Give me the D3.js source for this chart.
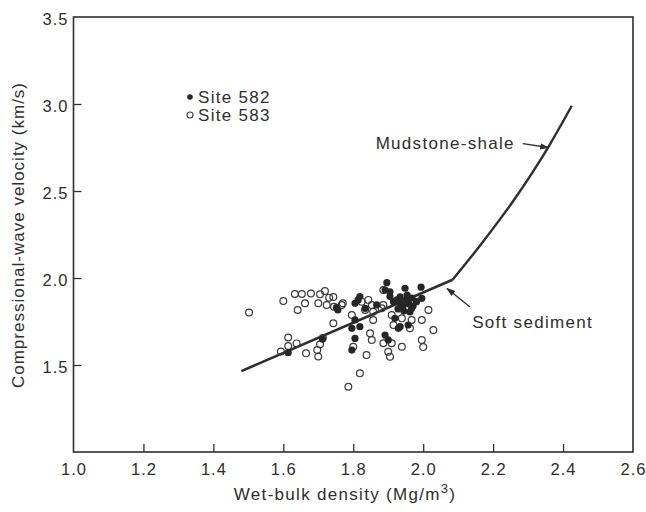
<html>
<head>
<script src="https://d3js.org/d3.v7.min.js"></script>
<style>
body { margin: 0; background: #fff; }
text { font-family: "Liberation Sans", Arial, sans-serif; fill: #2e2e2e; }
</style>
</head>
<body>
<script>
//DATA - density (Mg/m3), velocity (km/s)
var site582 = [
	[1.752,1.830],[1.756,1.816],[1.614,1.571],[1.712,1.649],[1.896,1.973],[1.891,1.931],
	[1.905,1.921],[1.948,1.941],[1.994,1.947],[1.819,1.893],[1.814,1.874],[1.805,1.855],
	[1.834,1.826],[1.867,1.845],[1.905,1.893],[1.915,1.864],[1.925,1.874],[1.934,1.856],
	[1.942,1.839],[1.951,1.874],[1.959,1.851],[1.968,1.885],[1.928,1.822],[1.945,1.810],
	[1.962,1.805],[1.971,1.839],[1.934,1.891],[1.954,1.902],[1.981,1.864],[1.996,1.883],
	[1.967,1.826],[1.805,1.759],[1.819,1.720],[1.919,1.768],[1.934,1.720],[1.957,1.730],
	[1.796,1.711],[1.805,1.653],[1.796,1.586],[1.891,1.672],[1.900,1.644],[1.929,1.711]
];
var site583 = [
	[1.502,1.802],[1.600,1.868],[1.633,1.908],[1.653,1.908],[1.679,1.911],[1.705,1.906],
	[1.719,1.925],[1.731,1.887],[1.700,1.855],[1.662,1.855],[1.641,1.816],[1.724,1.845],
	[1.745,1.835],[1.767,1.845],[1.743,1.740],[1.614,1.658],[1.638,1.624],[1.614,1.609],
	[1.593,1.578],[1.665,1.567],[1.697,1.586],[1.705,1.619],[1.713,1.655],[1.700,1.549],
	[1.786,1.375],[1.819,1.452],[1.743,1.891],[1.770,1.855],[1.796,1.787],[1.824,1.864],
	[1.843,1.874],[1.853,1.845],[1.834,1.816],[1.857,1.806],[1.857,1.759],[1.886,1.931],
	[1.886,1.845],[1.910,1.787],[1.939,1.768],[1.967,1.759],[1.996,1.759],[2.015,1.816],
	[1.962,1.711],[2.029,1.701],[1.996,1.644],[2.000,1.603],[1.848,1.682],[1.853,1.644],
	[1.886,1.625],[1.910,1.625],[1.939,1.605],[1.838,1.557],[1.900,1.576],[1.905,1.548],
	[1.800,1.605],[1.915,1.730],[1.881,1.826]
];
//trend lines
var softSediment = [[1.48,1.465],[2.084,1.99]];
var mudstoneShale = [[2.084,1.99],[2.16,2.18],[2.26,2.45],[2.36,2.76],[2.425,2.99]];

var xTicks = [1.0,1.2,1.4,1.6,1.8,2.0,2.2,2.4,2.6];
var yTicks = [1.5,2.0,2.5,3.0,3.5];
var legendNames = ["Site 582","Site 583"];
//////////////////////

var width = 646, height = 512;
var plotLeft = 73.5, plotRight = 633, plotTop = 17, plotBottom = 452;
var ink = "#2e2e2e";
var fontSize = "17px", spacing = "1.3px";

var svg = d3.select("body")
	.append("svg")
	.attr("width", width)
	.attr("height", height);

var x = d3.scaleLinear().domain([1.0, 2.6]).range([plotLeft, plotRight]);
var y = d3.scaleLinear().domain([1.0, 3.5]).range([plotBottom, plotTop]);

//AXES - ticks point inside the frame
var xAxis = d3.axisBottom(x).tickValues(xTicks).tickFormat(d3.format(".1f"))
	.tickSizeInner(-8).tickSizeOuter(0).tickPadding(11);
var yAxis = d3.axisLeft(y).tickValues(yTicks).tickFormat(d3.format(".1f"))
	.tickSizeInner(-8).tickSizeOuter(0).tickPadding(5);

var gx = svg.append("g").attr("transform", "translate(0," + plotBottom + ")").call(xAxis);
var gy = svg.append("g").attr("transform", "translate(" + plotLeft + ",0)").call(yAxis);

[gx, gy].forEach(function(g) {
	g.select(".domain").remove();
	g.selectAll("line").attr("stroke", ink).attr("stroke-width", 1.3);
	g.selectAll("text").attr("fill", ink).style("font-size", "16.5px")
		.style("letter-spacing", "1px").style("font-family", "'Liberation Sans', Arial, sans-serif");
});
gy.selectAll("text").attr("dy", "0.45em");
//no tick marks on the frame corners
gx.selectAll(".tick line").filter(function(d) { return d == 1.0 || d == 2.6; }).remove();
gy.selectAll(".tick line").filter(function(d) { return d == 3.5; }).remove();

//FRAME
svg.append("rect")
	.attr("x", plotLeft).attr("y", plotTop)
	.attr("width", plotRight - plotLeft).attr("height", plotBottom - plotTop)
	.attr("fill", "none").attr("stroke", ink).attr("stroke-width", 1.6);

//AXIS TITLES
var xt = svg.append("text")
	.attr("x", 345).attr("y", 500)
	.attr("text-anchor", "middle")
	.style("font-size", fontSize).style("letter-spacing", spacing);
xt.append("tspan").text("Wet-bulk density (Mg/m");
xt.append("tspan").attr("dy", -7).style("font-size", "13px").text("3");
xt.append("tspan").attr("dy", 7).text(")");

svg.append("text")
	.attr("transform", "translate(24,235) rotate(-90)")
	.attr("text-anchor", "middle")
	.style("font-size", fontSize).style("letter-spacing", "1px")
	.text("Compressional-wave velocity (km/s)");

//LINES
var line = d3.line().x(function(d) { return x(d[0]); }).y(function(d) { return y(d[1]); });
svg.append("path").datum(softSediment)
	.attr("d", line)
	.attr("fill", "none").attr("stroke", ink).attr("stroke-width", 2.6);
svg.append("path").datum(mudstoneShale)
	.attr("d", line.curve(d3.curveMonotoneX))
	.attr("fill", "none").attr("stroke", ink).attr("stroke-width", 2.4);

//POINTS
svg.append("g").selectAll("circle").data(site583).enter().append("circle")
	.attr("cx", function(d) { return x(d[0]); })
	.attr("cy", function(d) { return y(d[1]); })
	.attr("r", 3.4)
	.attr("fill", "none").attr("stroke", "#3a3a3a").attr("stroke-width", 1.2);
svg.append("g").selectAll("circle").data(site582).enter().append("circle")
	.attr("cx", function(d) { return x(d[0]); })
	.attr("cy", function(d) { return y(d[1]); })
	.attr("r", 3.6)
	.attr("fill", "#262626");

//LEGEND
var legend = svg.append("g").attr("transform", "translate(190,97)");
legend.selectAll("circle").data(legendNames).enter().append("circle")
	.attr("cx", 0).attr("cy", function(d, i) { return i * 18; })
	.attr("r", function(d, i) { return i == 0 ? 2.8 : 3; })
	.attr("fill", function(d, i) { return i == 0 ? "#262626" : "none"; })
	.attr("stroke", function(d, i) { return i == 0 ? "none" : "#3a3a3a"; })
	.attr("stroke-width", 1.1);
legend.selectAll("text").data(legendNames).enter().append("text")
	.attr("x", 8).attr("y", function(d, i) { return i * 18; })
	.attr("dy", "0.36em")
	.style("font-size", fontSize).style("letter-spacing", spacing)
	.text(function(d) { return d; });

//ANNOTATIONS WITH ARROWS
svg.append("defs").append("marker")
	.attr("id", "head").attr("viewBox", "0 0 10 10")
	.attr("refX", 9).attr("refY", 5)
	.attr("markerWidth", 7).attr("markerHeight", 7)
	.attr("orient", "auto")
	.append("path").attr("d", "M0,1.5 L10,5 L0,8.5 Z").attr("fill", ink);

var notes = [
	{label: "Mudstone-shale", tx: 2.262, ty: 2.776, anchor: "end", from: [2.285, 2.772], to: [2.358, 2.75]},
	{label: "Soft sediment", tx: 2.14, ty: 1.745, anchor: "start", from: [2.134, 1.833], to: [2.068, 1.94]}
];
notes.forEach(function(n) {
	svg.append("text")
		.attr("x", x(n.tx)).attr("y", y(n.ty))
		.attr("dy", "0.36em")
		.attr("text-anchor", n.anchor)
		.style("font-size", fontSize).style("letter-spacing", spacing)
		.text(n.label);
	svg.append("line")
		.attr("x1", x(n.from[0])).attr("y1", y(n.from[1]))
		.attr("x2", x(n.to[0])).attr("y2", y(n.to[1]))
		.attr("stroke", ink).attr("stroke-width", 1.3)
		.attr("marker-end", "url(#head)");
});
</script>
</body>
</html>
